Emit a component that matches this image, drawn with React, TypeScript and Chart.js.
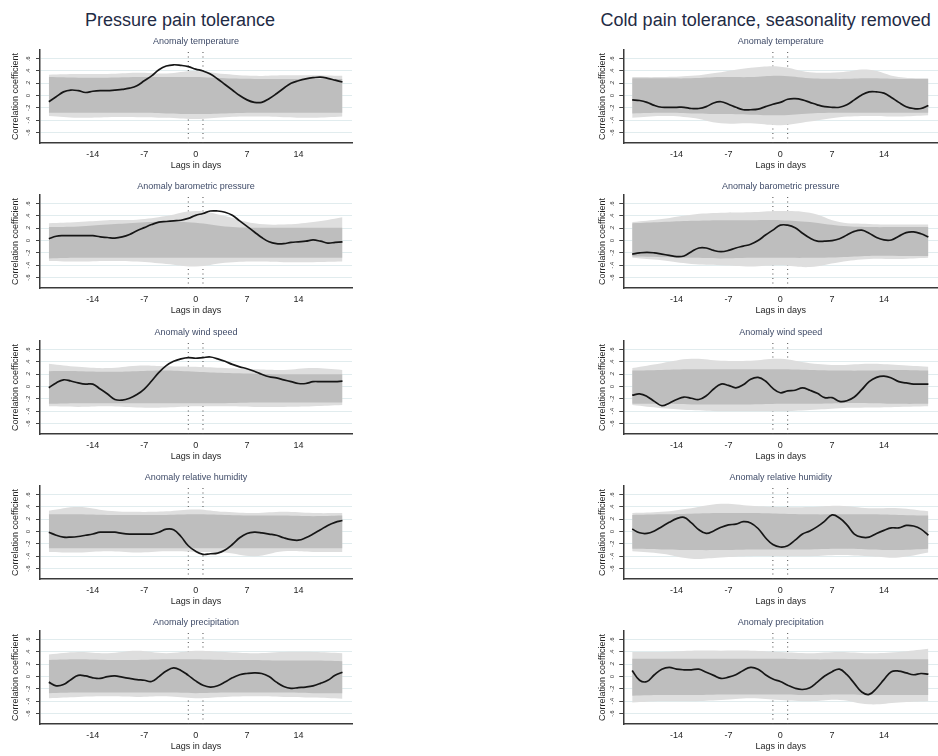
import React, { useEffect, useRef } from "react";
import { Chart, registerables } from "chart.js";
Chart.register(...registerables);

const FONT = '"Liberation Sans", Arial, Helvetica, sans-serif';
Chart.defaults.font.family = FONT;

const columnTitles = ["Pressure pain tolerance", "Cold pain tolerance, seasonality removed"];
const panelTitles = [
  "Anomaly temperature",
  "Anomaly barometric pressure",
  "Anomaly wind speed",
  "Anomaly relative humidity",
  "Anomaly precipitation",
];
const xAxisTitle = "Lags in days";
const yAxisTitle = "Correlation coefficient";

const lags = [-20, -19, -18, -17, -16, -15, -14, -13, -12, -11, -10, -9, -8, -7, -6, -5, -4, -3, -2, -1, 0, 1, 2, 3, 4, 5, 6, 7, 8, 9, 10, 11, 12, 13, 14, 15, 16, 17, 18, 19, 20];
const bandLags = [-20, -16, -12, -8, -4, 0, 4, 8, 12, 16, 20];
const xTicks = [-14, -7, 0, 7, 14];
const yTicks = [-0.6, -0.4, -0.2, 0, 0.2, 0.4, 0.6];
const yTickLabels = ["-.6", "-.4", "-.2", "0", ".2", ".4", ".6"];
const markerLags = [-1, 1];
const xMin = -21.2, xMax = 21.3, yMin = -0.77, yMax = 0.74;

// Pressure pain tolerance – observed correlations
const ppTemperature = [-0.10,-0.02,0.06,0.09,0.08,0.05,0.07,0.08,0.08,0.09,0.10,0.12,0.16,0.24,0.32,0.42,0.48,0.50,0.49,0.47,0.43,0.40,0.35,0.27,0.18,0.09,0.00,-0.07,-0.11,-0.11,-0.05,0.03,0.12,0.20,0.24,0.27,0.29,0.30,0.28,0.25,0.22];
const ppPressure = [0.03,0.07,0.08,0.08,0.08,0.08,0.08,0.06,0.05,0.04,0.06,0.10,0.16,0.21,0.26,0.30,0.31,0.32,0.33,0.36,0.41,0.44,0.48,0.48,0.46,0.41,0.32,0.23,0.14,0.05,-0.02,-0.05,-0.05,-0.03,-0.02,-0.01,0.01,-0.01,-0.04,-0.03,-0.02];
const ppWind = [-0.02,0.06,0.11,0.09,0.06,0.04,0.04,-0.04,-0.12,-0.21,-0.22,-0.19,-0.13,-0.04,0.09,0.23,0.34,0.41,0.45,0.47,0.46,0.47,0.48,0.45,0.41,0.36,0.32,0.29,0.25,0.20,0.16,0.14,0.11,0.08,0.05,0.05,0.08,0.08,0.08,0.08,0.09];
const ppHumidity = [-0.01,-0.06,-0.09,-0.09,-0.08,-0.06,-0.04,-0.01,-0.01,-0.01,-0.03,-0.04,-0.04,-0.04,-0.04,-0.01,0.04,0.03,-0.08,-0.23,-0.32,-0.37,-0.36,-0.35,-0.30,-0.21,-0.10,-0.03,-0.01,-0.02,-0.04,-0.06,-0.10,-0.13,-0.14,-0.10,-0.04,0.03,0.10,0.15,0.18];
const ppPrecipitation = [-0.09,-0.15,-0.13,-0.05,0.02,0.01,-0.02,-0.03,0.00,0.01,-0.01,-0.03,-0.05,-0.06,-0.08,0.00,0.09,0.14,0.10,0.02,-0.07,-0.14,-0.17,-0.15,-0.09,-0.02,0.03,0.05,0.06,0.05,0.00,-0.09,-0.16,-0.19,-0.18,-0.17,-0.15,-0.11,-0.06,0.02,0.07];

// Cold pain tolerance – observed correlations
const cpTemperature = [-0.07,-0.08,-0.11,-0.16,-0.19,-0.19,-0.19,-0.19,-0.21,-0.21,-0.18,-0.12,-0.10,-0.14,-0.19,-0.23,-0.23,-0.22,-0.18,-0.14,-0.11,-0.06,-0.05,-0.07,-0.11,-0.15,-0.18,-0.19,-0.19,-0.15,-0.07,0.01,0.06,0.06,0.04,-0.03,-0.11,-0.18,-0.21,-0.21,-0.16];
const cpPressure = [-0.22,-0.20,-0.19,-0.20,-0.22,-0.24,-0.26,-0.25,-0.18,-0.12,-0.12,-0.16,-0.18,-0.16,-0.12,-0.09,-0.06,0.00,0.09,0.17,0.25,0.25,0.21,0.12,0.04,-0.01,-0.01,0.00,0.03,0.09,0.15,0.17,0.12,0.05,0.01,0.01,0.07,0.13,0.14,0.11,0.06];
const cpWind = [-0.14,-0.12,-0.16,-0.24,-0.31,-0.27,-0.21,-0.17,-0.19,-0.21,-0.15,-0.04,0.04,0.02,-0.02,0.03,0.12,0.15,0.09,-0.03,-0.10,-0.07,-0.06,-0.02,-0.06,-0.11,-0.18,-0.18,-0.24,-0.23,-0.17,-0.05,0.08,0.15,0.17,0.14,0.08,0.06,0.04,0.04,0.04];
const cpHumidity = [0.04,-0.02,-0.03,0.01,0.08,0.15,0.21,0.23,0.14,0.03,-0.03,0.01,0.07,0.11,0.12,0.16,0.14,0.05,-0.10,-0.21,-0.25,-0.23,-0.14,-0.04,0.01,0.08,0.17,0.27,0.22,0.11,-0.04,-0.09,-0.09,-0.03,0.02,0.06,0.06,0.10,0.09,0.04,-0.06];
const cpPrecipitation = [0.10,-0.06,-0.08,0.03,0.12,0.15,0.12,0.11,0.11,0.12,0.07,0.02,-0.03,-0.01,0.03,0.10,0.15,0.12,0.03,-0.04,-0.08,-0.14,-0.19,-0.21,-0.18,-0.09,0.01,0.08,0.12,0.03,-0.11,-0.25,-0.29,-0.19,-0.05,0.08,0.09,0.06,0.03,0.05,0.04];

// Permutation envelopes (dense core and light outer), at bandLags
const ppTemperatureCoreHi = [0.30,0.29,0.29,0.30,0.30,0.30,0.28,0.27,0.27,0.27,0.27];
const ppTemperatureCoreLo = [-0.28,-0.28,-0.28,-0.28,-0.29,-0.30,-0.29,-0.28,-0.28,-0.28,-0.28];
const ppTemperatureOuterHi = [0.34,0.35,0.35,0.37,0.36,0.40,0.35,0.32,0.33,0.33,0.32];
const ppTemperatureOuterLo = [-0.33,-0.36,-0.35,-0.35,-0.36,-0.38,-0.35,-0.34,-0.35,-0.36,-0.34];

const ppPressureCoreHi = [0.22,0.23,0.26,0.29,0.31,0.29,0.23,0.21,0.21,0.21,0.21];
const ppPressureCoreLo = [-0.29,-0.28,-0.28,-0.28,-0.28,-0.28,-0.28,-0.28,-0.28,-0.28,-0.28];
const ppPressureOuterHi = [0.28,0.30,0.33,0.34,0.40,0.48,0.40,0.28,0.26,0.30,0.38];
const ppPressureOuterLo = [-0.33,-0.34,-0.33,-0.34,-0.38,-0.42,-0.36,-0.34,-0.35,-0.35,-0.34];

const ppWindCoreHi = [0.25,0.25,0.24,0.25,0.26,0.24,0.22,0.21,0.20,0.20,0.20];
const ppWindCoreLo = [-0.28,-0.27,-0.27,-0.27,-0.27,-0.27,-0.27,-0.26,-0.26,-0.26,-0.26];
const ppWindOuterHi = [0.37,0.32,0.30,0.34,0.33,0.32,0.30,0.28,0.27,0.30,0.27];
const ppWindOuterLo = [-0.32,-0.33,-0.32,-0.34,-0.34,-0.32,-0.32,-0.33,-0.33,-0.32,-0.30];

const ppHumidityCoreHi = [0.28,0.28,0.27,0.27,0.27,0.28,0.27,0.26,0.26,0.25,0.26];
const ppHumidityCoreLo = [-0.27,-0.27,-0.27,-0.27,-0.27,-0.27,-0.27,-0.27,-0.27,-0.27,-0.27];
const ppHumidityOuterHi = [0.34,0.40,0.34,0.32,0.33,0.36,0.32,0.30,0.32,0.30,0.30];
const ppHumidityOuterLo = [-0.33,-0.34,-0.32,-0.34,-0.32,-0.33,-0.34,-0.40,-0.32,-0.33,-0.33];

const ppPrecipitationCoreHi = [0.27,0.28,0.27,0.27,0.28,0.28,0.27,0.27,0.26,0.26,0.25];
const ppPrecipitationCoreLo = [-0.27,-0.26,-0.26,-0.26,-0.26,-0.27,-0.26,-0.26,-0.26,-0.27,-0.27];
const ppPrecipitationOuterHi = [0.36,0.40,0.38,0.42,0.38,0.42,0.40,0.38,0.40,0.40,0.38];
const ppPrecipitationOuterLo = [-0.35,-0.33,-0.32,-0.33,-0.32,-0.35,-0.33,-0.32,-0.33,-0.34,-0.36];

const cpTemperatureCoreHi = [0.28,0.28,0.28,0.30,0.30,0.32,0.28,0.27,0.28,0.27,0.27];
const cpTemperatureCoreLo = [-0.29,-0.28,-0.29,-0.30,-0.31,-0.32,-0.29,-0.28,-0.28,-0.28,-0.28];
const cpTemperatureOuterHi = [0.30,0.30,0.32,0.38,0.45,0.47,0.38,0.38,0.42,0.30,0.28];
const cpTemperatureOuterLo = [-0.36,-0.33,-0.36,-0.45,-0.45,-0.48,-0.42,-0.35,-0.33,-0.34,-0.32];

const cpPressureCoreHi = [0.28,0.30,0.32,0.33,0.33,0.33,0.30,0.24,0.22,0.22,0.22];
const cpPressureCoreLo = [-0.26,-0.27,-0.28,-0.29,-0.28,-0.28,-0.28,-0.27,-0.25,-0.25,-0.25];
const cpPressureOuterHi = [0.30,0.35,0.42,0.45,0.46,0.48,0.45,0.30,0.27,0.26,0.26];
const cpPressureOuterLo = [-0.28,-0.32,-0.38,-0.40,-0.42,-0.40,-0.43,-0.35,-0.30,-0.30,-0.28];

const cpWindCoreHi = [0.26,0.27,0.28,0.28,0.28,0.28,0.27,0.26,0.26,0.27,0.26];
const cpWindCoreLo = [-0.28,-0.28,-0.29,-0.29,-0.29,-0.28,-0.28,-0.27,-0.27,-0.28,-0.28];
const cpWindOuterHi = [0.30,0.38,0.45,0.42,0.42,0.45,0.38,0.35,0.37,0.35,0.32];
const cpWindOuterLo = [-0.30,-0.35,-0.38,-0.40,-0.40,-0.40,-0.38,-0.35,-0.34,-0.33,-0.32];

const cpHumidityCoreHi = [0.27,0.28,0.29,0.30,0.30,0.29,0.28,0.28,0.28,0.27,0.26];
const cpHumidityCoreLo = [-0.28,-0.29,-0.30,-0.30,-0.29,-0.29,-0.29,-0.28,-0.29,-0.30,-0.28];
const cpHumidityOuterHi = [0.30,0.32,0.38,0.45,0.42,0.40,0.40,0.42,0.38,0.38,0.33];
const cpHumidityOuterLo = [-0.32,-0.36,-0.44,-0.42,-0.40,-0.40,-0.40,-0.38,-0.40,-0.42,-0.34];

const cpPrecipitationCoreHi = [0.29,0.29,0.29,0.29,0.29,0.29,0.28,0.28,0.28,0.28,0.28];
const cpPrecipitationCoreLo = [-0.31,-0.30,-0.30,-0.29,-0.29,-0.29,-0.30,-0.29,-0.30,-0.30,-0.30];
const cpPrecipitationOuterHi = [0.40,0.40,0.42,0.42,0.42,0.40,0.38,0.40,0.38,0.40,0.45];
const cpPrecipitationOuterLo = [-0.42,-0.40,-0.40,-0.38,-0.35,-0.38,-0.40,-0.38,-0.45,-0.42,-0.40];

const columnLines = [
  [ppTemperature, ppPressure, ppWind, ppHumidity, ppPrecipitation],
  [cpTemperature, cpPressure, cpWind, cpHumidity, cpPrecipitation],
];
const columnBands = [
  [
    [ppTemperatureCoreHi, ppTemperatureCoreLo, ppTemperatureOuterHi, ppTemperatureOuterLo],
    [ppPressureCoreHi, ppPressureCoreLo, ppPressureOuterHi, ppPressureOuterLo],
    [ppWindCoreHi, ppWindCoreLo, ppWindOuterHi, ppWindOuterLo],
    [ppHumidityCoreHi, ppHumidityCoreLo, ppHumidityOuterHi, ppHumidityOuterLo],
    [ppPrecipitationCoreHi, ppPrecipitationCoreLo, ppPrecipitationOuterHi, ppPrecipitationOuterLo],
  ],
  [
    [cpTemperatureCoreHi, cpTemperatureCoreLo, cpTemperatureOuterHi, cpTemperatureOuterLo],
    [cpPressureCoreHi, cpPressureCoreLo, cpPressureOuterHi, cpPressureOuterLo],
    [cpWindCoreHi, cpWindCoreLo, cpWindOuterHi, cpWindOuterLo],
    [cpHumidityCoreHi, cpHumidityCoreLo, cpHumidityOuterHi, cpHumidityOuterLo],
    [cpPrecipitationCoreHi, cpPrecipitationCoreLo, cpPrecipitationOuterHi, cpPrecipitationOuterLo],
  ],
];

const TEXT = "#262626";
const AXIS = "#3a3a3a";

const panelDecor = {
  id: "panelDecor",
  afterDraw(chart: any, _args: any, opts: any) {
    const { ctx, chartArea, scales } = chart;
    const y = scales.y;
    ctx.save();
    ctx.fillStyle = TEXT;
    ctx.font = `5.5px ${FONT}`;
    ctx.textAlign = "center";
    ctx.textBaseline = "middle";
    yTicks.forEach((v, i) => {
      const py = y.getPixelForValue(v);
      ctx.save();
      ctx.translate(chartArea.left - 11.3, py);
      ctx.rotate(-Math.PI / 2);
      ctx.fillText(yTickLabels[i], 0, 0);
      ctx.restore();
    });
    ctx.fillStyle = "#3f4b68";
    ctx.font = `9px ${FONT}`;
    ctx.fillText(opts.title, (chartArea.left + chartArea.right) / 2, chartArea.top - 8);
    ctx.restore();
  },
};

function pts(xs: number[], ys: number[]) {
  return xs.map((x, i) => ({ x, y: ys[i] }));
}

type PanelProps = {
  left: number; top: number; width: number; height: number;
  yWidth: number; yTitlePad: number; rightPad: number;
  title: string; line: number[]; band: number[][];
};

function Panel(p: PanelProps) {
  const ref = useRef<HTMLCanvasElement | null>(null);
  useEffect(() => {
    const [coreHi, coreLo, outerHi, outerLo] = p.band;
    const band = { borderWidth: 0, pointRadius: 0, tension: 0.4 };
    const chart = new Chart(ref.current as HTMLCanvasElement, {
      type: "line",
      data: {
        datasets: [
          { data: pts(lags, p.line), borderColor: "#161616", borderWidth: 1.7, pointRadius: 0, tension: 0.4, fill: false },
          { data: pts(bandLags, coreHi), backgroundColor: "#bebebe", fill: "+1", ...band },
          { data: pts(bandLags, coreLo), fill: false, ...band },
          { data: pts(bandLags, outerHi), backgroundColor: "#dedede", fill: "+1", ...band },
          { data: pts(bandLags, outerLo), fill: false, ...band },
          ...markerLags.map((m) => ({
            data: [{ x: m, y: yMin }, { x: m, y: yMax }],
            borderColor: "#4a4a4a", borderWidth: 1, borderDash: [1, 3.5], pointRadius: 0, fill: false,
          })),
        ] as any,
      },
      options: {
        animation: false,
        responsive: false,
        events: [],
        layout: { padding: { top: 20, right: p.rightPad, left: 0, bottom: 0 } },
        plugins: {
          legend: { display: false },
          tooltip: { enabled: false },
          panelDecor: { title: p.title },
        } as any,
        scales: {
          x: {
            type: "linear", min: xMin, max: xMax,
            afterBuildTicks: (s: any) => { s.ticks = xTicks.map((v) => ({ value: v })); },
            afterFit: (s: any) => { s.height = 31; },
            grid: { display: false, drawTicks: false },
            border: { display: true, color: AXIS, width: 1.5 },
            ticks: { padding: 6.3, color: TEXT, font: { size: 9 }, autoSkip: false, maxRotation: 0, minRotation: 0, callback: (v: any) => String(v) },
            title: { display: true, text: xAxisTitle, color: TEXT, font: { size: 9 }, padding: { top: 0, bottom: 2.9 } },
          },
          y: {
            type: "linear", min: yMin, max: yMax,
            afterBuildTicks: (s: any) => { s.ticks = yTicks.map((v) => ({ value: v })); },
            afterFit: (s: any) => { s.width = p.yWidth; },
            grid: { color: "#e1ecee", lineWidth: 1, tickColor: "#444", tickLength: 4, drawTicks: true },
            border: { display: true, color: AXIS, width: 1.5 },
            ticks: { display: false },
            title: { display: true, text: yAxisTitle, color: TEXT, font: { size: 9 }, padding: { top: p.yTitlePad, bottom: 0 } },
          },
        } as any,
      },
      plugins: [panelDecor as any],
    });
    return () => chart.destroy();
  }, []);
  return (
    <canvas
      ref={ref}
      width={p.width}
      height={p.height}
      style={{ position: "absolute", left: p.left, top: p.top, width: p.width, height: p.height }}
    />
  );
}

const colGeom = [
  { left: 0, width: 360, yWidth: 40, yTitlePad: 10.6, rightPad: 8, titleX: 180 },
  { left: 580, width: 358, yWidth: 43.3, yTitlePad: 17.3, rightPad: 0, titleX: 765.7 },
];

export default function App() {
  return (
    <div style={{ position: "absolute", left: 0, top: 0, width: 938, height: 756, background: "#fff", fontFamily: FONT, overflow: "hidden" }}>
      {colGeom.map((g, c) => (
        <div
          key={"t" + c}
          style={{ position: "absolute", left: g.titleX, top: 10.5, transform: "translateX(-50%)", whiteSpace: "nowrap", fontSize: 18, lineHeight: "18px", color: "#1f2b45" }}
        >
          {columnTitles[c]}
        </div>
      ))}
      {colGeom.map((g, c) =>
        panelTitles.map((t, r) => (
          <Panel
            key={c + "-" + r}
            left={g.left}
            top={Math.round(30 + 145.3 * r)}
            width={g.width}
            height={144}
            yWidth={g.yWidth}
            yTitlePad={g.yTitlePad}
            rightPad={g.rightPad}
            title={t}
            line={columnLines[c][r]}
            band={columnBands[c][r]}
          />
        ))
      )}
    </div>
  );
}
